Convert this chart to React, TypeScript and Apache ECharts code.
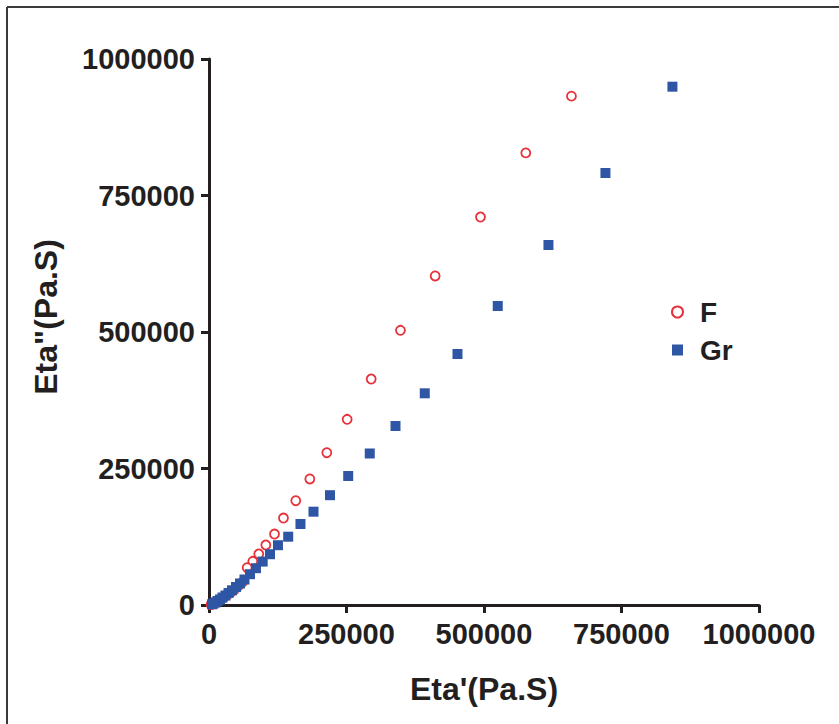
import React, { useEffect, useRef } from "react";
import * as echarts from "echarts";

const xTicks = [0, 250000, 500000, 750000, 1000000];
const yTicks = [0, 250000, 500000, 750000, 1000000];

const fEtaPrime = [
  659000, 576000, 493600, 411200, 348100, 294900, 251200, 214200, 183300, 157800,
  135400, 119100, 103300, 90500, 79600, 69400, 60900, 52700, 45500, 38200,
  31800, 26400, 20900, 16400, 12700, 9100, 6400, 3600,
];
const fEtaDouble = [
  932000, 828000, 710600, 602600, 503100, 413900, 340100, 278900, 230800, 191000,
  159300, 130000, 109900, 93400, 80000, 68300, 42000, 34000, 27500, 22000,
  17500, 13500, 10000, 7300, 5000, 3200, 1800, 700,
];

const grEtaPrime = [
  842600, 720800, 617200, 525000, 451800, 392300, 339100, 292300, 253100, 220000,
  190000, 166300, 144000, 125400, 110900, 97600, 85400, 74500, 64500, 56400,
  49100, 41800, 35500, 30000, 24500, 20000, 15500, 11800, 8200, 5500,
];
const grEtaDouble = [
  949300, 791200, 659300, 547600, 459700, 387700, 327800, 277500, 236300, 201100,
  170900, 148400, 125100, 109500, 93000, 79500, 67400, 56400, 46700, 39400,
  33000, 26900, 22000, 17400, 13700, 10100, 7300, 4600, 2700, 1300,
];

const seriesNames = ["F", "Gr"];
const xTitle = "Eta'(Pa.S)";
const yTitle = 'Eta"(Pa.S)';

const INK = "#231f20";
const RED = "#e8313a";
const BLUE = "#2f55a5";
const FONT = "Liberation Sans, Arial, sans-serif";

export default function App() {
  const ref = useRef<HTMLDivElement>(null);
  useEffect(() => {
    if (!ref.current) return;
    const chart = echarts.init(ref.current, undefined, { renderer: "svg" });
    const fData = fEtaPrime.map((x, i) => [x, fEtaDouble[i]]);
    const gData = grEtaPrime.map((x, i) => [x, grEtaDouble[i]]);
    const labelStyle = {
      margin: 14,
      color: INK,
      fontFamily: FONT,
      fontWeight: "bold",
      fontSize: 29,
      formatter: (v: number) => String(v),
    };
    const axisCommon = {
      type: "value" as const,
      splitLine: { show: false },
      axisLine: { show: true, onZero: false, lineStyle: { color: INK, width: 3 } },
      axisTick: { show: true, length: 8, lineStyle: { color: INK, width: 3 } },
      axisLabel: labelStyle,
    };
    chart.setOption({
      animation: false,
      backgroundColor: "#ffffff",
      grid: { left: 209, right: 80, top: 59, bottom: 119, containLabel: false },
      xAxis: {
        ...axisCommon,
        min: xTicks[0],
        max: xTicks[xTicks.length - 1],
        interval: xTicks[1] - xTicks[0],
        name: xTitle,
        nameLocation: "middle",
        nameGap: 68,
        nameTextStyle: { color: INK, fontFamily: FONT, fontWeight: "bold", fontSize: 32 },
      },
      yAxis: {
        ...axisCommon,
        min: yTicks[0],
        max: yTicks[yTicks.length - 1],
        interval: yTicks[1] - yTicks[0],
      },
      legend: {
        orient: "vertical",
        left: 666,
        top: 293,
        itemWidth: 11,
        itemHeight: 11,
        itemGap: 10,
        data: seriesNames,
        textStyle: {
          color: INK,
          fontFamily: FONT,
          fontWeight: "bold",
          fontSize: 28,
          padding: [0, 0, 0, 12],
        },
      },
      graphic: [
        { type: "line", shape: { x1: 7, y1: 7, x2: 839, y2: 7 }, style: { stroke: "#3a3a3a", lineWidth: 2 } },
        { type: "line", shape: { x1: 7, y1: 7, x2: 7, y2: 724 }, style: { stroke: "#3a3a3a", lineWidth: 2 } },
        {
          type: "text",
          x: 46,
          y: 317,
          rotation: Math.PI / 2,
          style: {
            text: yTitle,
            fill: INK,
            font: "bold 32px Liberation Sans, Arial, sans-serif",
            align: "center",
            verticalAlign: "middle",
          },
        },
      ],
      series: [
        {
          name: seriesNames[0],
          type: "scatter",
          symbol: "circle",
          symbolSize: 9,
          data: fData,
          z: 2,
          itemStyle: { color: "#ffffff", borderColor: RED, borderWidth: 1.8, opacity: 1 },
        },
        {
          name: seriesNames[1],
          type: "scatter",
          symbol: "rect",
          symbolSize: 10,
          data: gData,
          z: 3,
          itemStyle: { color: BLUE, opacity: 1 },
        },
      ],
    });
    return () => chart.dispose();
  }, []);
  return (
    <div
      ref={ref}
      style={{ position: "fixed", left: 0, top: 0, width: 839, height: 724 }}
    />
  );
}
